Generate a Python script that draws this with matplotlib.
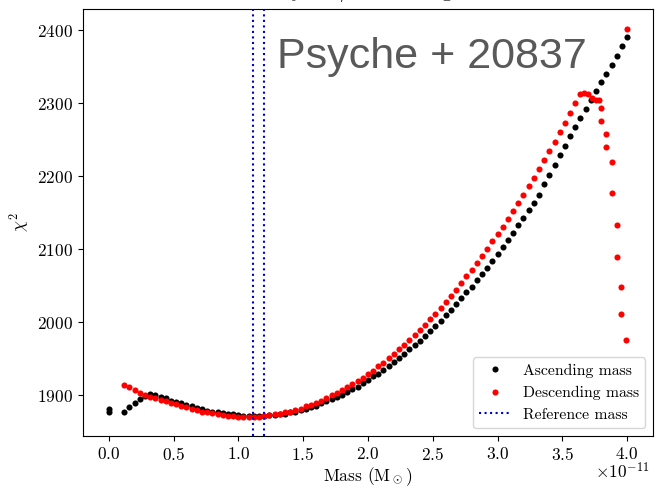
import numpy as np
import matplotlib
matplotlib.use("Agg")
import matplotlib.pyplot as plt

plt.rcParams['font.family'] = 'cmr10'
plt.rcParams['mathtext.fontset'] = 'cm'
plt.rcParams['axes.formatter.use_mathtext'] = True
plt.rcParams['font.size'] = 12.5

# Masa en unidades de 1e-11 Msol, paso fijo de la rejilla
asc_start, asc_step, asc_n = 0.12, 0.04, 98
chi_asc = [
    1878, 1884, 1890, 1895, 1899, 1902, 1900, 1898, 1896, 1893,
    1891, 1889, 1887, 1885, 1883, 1881, 1879, 1878, 1877, 1876,
    1875, 1874, 1873, 1872, 1872, 1872, 1872, 1872, 1873, 1873,
    1874, 1875, 1877, 1878, 1880, 1882, 1884, 1886, 1889, 1892,
    1895, 1898, 1901, 1905, 1909, 1912, 1917, 1921, 1926, 1930,
    1935, 1940, 1946, 1951, 1957, 1963, 1969, 1975, 1982, 1988,
    1995, 2002, 2010, 2017, 2025, 2033, 2041, 2049, 2058, 2066,
    2075, 2084, 2094, 2103, 2113, 2123, 2133, 2143, 2154, 2164,
    2175, 2189, 2202, 2216, 2229, 2242, 2255, 2268, 2280, 2292,
    2305, 2317, 2329, 2340, 2353, 2365, 2378, 2391,
]
# dos evaluaciones en masa cero
mass_zero = [0.0, 0.0]
chi_zero = [1878, 1882]

desc_start, desc_step, desc_n = 0.12, 0.04, 88
chi_desc = [
    1914, 1911, 1907, 1904, 1901, 1898, 1896, 1894, 1892, 1890,
    1888, 1886, 1884, 1882, 1880, 1878, 1877, 1876, 1874, 1873,
    1872, 1872, 1871, 1871, 1871, 1871, 1871, 1872, 1873, 1874,
    1875, 1877, 1878, 1880, 1882, 1885, 1887, 1890, 1893, 1896,
    1900, 1903, 1907, 1911, 1915, 1920, 1924, 1929, 1934, 1940,
    1945, 1951, 1957, 1963, 1969, 1976, 1983, 1990, 1997, 2005,
    2012, 2020, 2028, 2036, 2045, 2054, 2063, 2072, 2081, 2091,
    2101, 2111, 2121, 2131, 2142, 2153, 2164, 2175, 2187, 2198,
    2210, 2222, 2235, 2247, 2260, 2273, 2286, 2300,
]
# tramo final de la busqueda descendente
mass_desc_end = [3.64, 3.67, 3.70, 3.73, 3.76, 3.78,
                 3.80, 3.80, 3.84, 3.84, 3.88, 3.88, 3.92, 3.92, 3.95, 3.95, 3.99, 4.0]
chi_desc_end = [2313, 2314, 2312, 2307, 2305, 2304,
                2294, 2276, 2258, 2240, 2220, 2177, 2133, 2089, 2049, 2011, 1976, 2402]

ref_mass = [1.115, 1.20]

scale = 1e-11
m_asc = np.concatenate([mass_zero, asc_start + asc_step * np.arange(asc_n)]) * scale
c_asc = np.concatenate([chi_zero, chi_asc])
m_desc = np.concatenate([desc_start + desc_step * np.arange(desc_n), mass_desc_end]) * scale
c_desc = np.concatenate([chi_desc, chi_desc_end])

fig = plt.figure(figsize=(6.57, 4.91), dpi=100)
ax = fig.add_axes([0.126, 0.112, 0.868, 0.869])

ax.plot(m_asc, c_asc, 'o', color='black', ms=4.4, mew=0, label='Ascending mass')
ax.plot(m_desc, c_desc, 'o', color='red', ms=4.4, mew=0, label='Descending mass')
for i, rm in enumerate(ref_mass):
    ax.axvline(rm * scale, color='#0000cc', ls=':', lw=1.5,
               label='Reference mass' if i == 0 else None)

ax.set_xlabel(r'Mass (M$_\odot$)', labelpad=2)
ax.set_ylabel(r'$\chi^2$')
ax.set_title('Psyche / 20837 single', pad=9)
ax.set_yticks([1900, 2000, 2100, 2200, 2300, 2400])
ax.legend(loc='lower right', fontsize=11.3)

# factor de escala del eje x, colocado a mano bajo la ultima etiqueta
ax.xaxis.get_offset_text().set_visible(False)
fig.text(649 / 657, 1 - 461 / 491, r'$\times10^{-11}$', ha='right', va='top')

fig.text(277 / 657, 1 - 68 / 491, 'Psyche + 20837', family='Liberation Sans',
         fontsize=31, color='#595959', va='baseline', ha='left')

plt.savefig('out.png', dpi=100)
plt.close(fig)
